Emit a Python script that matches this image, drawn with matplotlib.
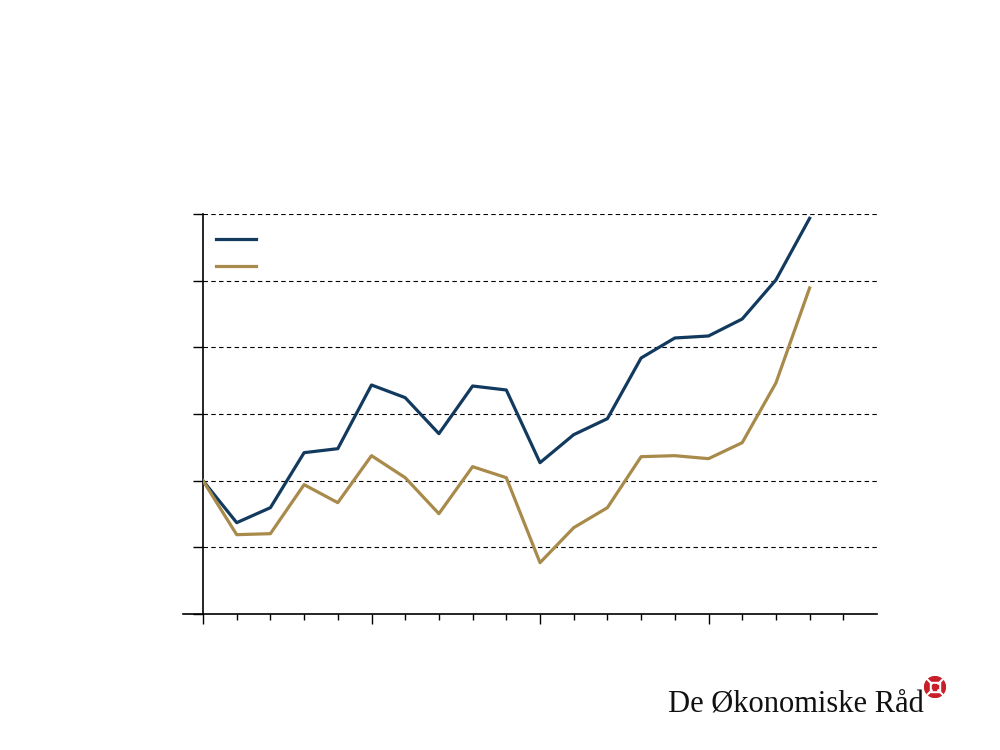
import matplotlib.pyplot as plt
import matplotlib.patches as mpatches

# index, first point = 100
periods = list(range(19))
series_blue = [100, 87.4, 91.9, 108.4, 109.6, 128.7, 124.9, 114.1, 128.4, 127.2,
               105.4, 113.8, 118.6, 136.8, 142.8, 143.4, 148.5, 160.2, 178.7]
series_gold = [100, 83.8, 84.1, 98.8, 93.4, 107.5, 100.9, 90.1, 104.2, 100.9,
               75.4, 85.9, 91.9, 107.2, 107.5, 106.6, 111.4, 129.3, 157.8]
yticks = [60, 80, 100, 120, 140, 160, 180]
xmajor = [0, 5, 10, 15]
xminor = list(range(20))

blue = '#123a5e'
gold = '#a88a4a'

fig = plt.figure(figsize=(10, 7.5), dpi=100)
ax = fig.add_axes([0.203, 0.1813, 0.674, 0.5334])

l1, = ax.plot(periods, series_blue, color=blue, lw=2.3, zorder=3)
l2, = ax.plot(periods, series_gold, color=gold, lw=2.3, zorder=3)

ax.set_xlim(0, 20)
ax.set_ylim(60, 180)
ax.set_yticks(yticks)
ax.set_xticks(xmajor)
ax.set_xticks(xminor, minor=True)
ax.set_xticklabels([])
ax.set_yticklabels([])
ax.tick_params(axis='y', direction='out', length=7, width=1, color='black')
ax.tick_params(axis='x', which='major', direction='out', length=7, width=1)
ax.tick_params(axis='x', which='minor', direction='out', length=4, width=1)

for y in yticks[1:]:
    ax.axhline(y, color='black', lw=0.8, ls=(0, (4, 3)), zorder=1)

for s in ['top', 'right']:
    ax.spines[s].set_visible(False)
ax.spines['bottom'].set_bounds(-0.6, 20)
ax.spines['bottom'].set_linewidth(1.2)
ax.spines['left'].set_linewidth(1.2)

ax.legend([l1, l2], [' ', ' '], loc='upper left', frameon=False,
          handlelength=2.9, bbox_to_anchor=(0.0, 0.985), labelspacing=0.95,
          borderaxespad=0.5)

# logo
fig.text(0.668, 0.051, 'De Økonomiske Råd', family='Liberation Serif',
         fontsize=22, color='#111111', ha='left', va='baseline')
lx, ly = 0.935, 0.084
logo = fig.add_axes([lx - 0.011, ly - 0.0147, 0.022, 0.0293])
logo.set_xlim(-1, 1)
logo.set_ylim(-1, 1)
logo.axis('off')
logo.add_patch(mpatches.Circle((0, 0), 0.95, color='#c8202a'))
logo.add_patch(mpatches.Rectangle((-0.45, -0.45), 0.9, 0.9, color='white'))
logo.add_patch(mpatches.Rectangle((-0.25, -0.25), 0.5, 0.5, color='#c8202a'))
for dx, dy in [(1, 1), (1, -1), (-1, 1), (-1, -1)]:
    logo.plot([0.3 * dx, 0.9 * dx], [0.3 * dy, 0.9 * dy], color='white', lw=1.5)

fig.savefig('out.png', dpi=100)
